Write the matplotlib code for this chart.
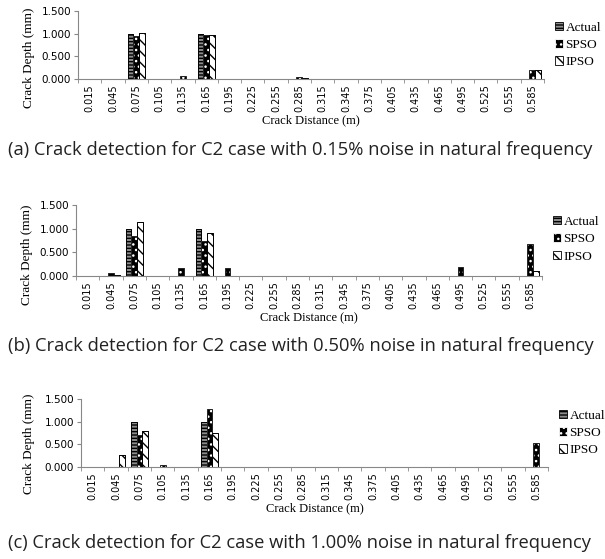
import matplotlib
matplotlib.use("Agg")
import matplotlib.pyplot as plt
import numpy as np
from matplotlib.patches import Patch

plt.rcParams['hatch.linewidth'] = 1.0

categories = ["0.015", "0.045", "0.075", "0.105", "0.135", "0.165", "0.195", "0.225",
              "0.255", "0.285", "0.315", "0.345", "0.375", "0.405", "0.435", "0.465",
              "0.495", "0.525", "0.555", "0.585"]

def series(d):
    return [d.get(c, 0.0) for c in categories]

# (a) 0.15% noise
actual_a = series({"0.075": 1.0, "0.165": 1.0})
spso_a = series({"0.075": 0.95, "0.135": 0.07, "0.165": 0.98, "0.285": 0.05, "0.585": 0.20})
ipso_a = series({"0.075": 1.02, "0.165": 0.98, "0.285": 0.03, "0.585": 0.20})
# (b) 0.50% noise
actual_b = series({"0.075": 1.0, "0.165": 1.0})
spso_b = series({"0.045": 0.06, "0.075": 0.85, "0.135": 0.17, "0.165": 0.73, "0.195": 0.17,
                 "0.495": 0.20, "0.585": 0.68})
ipso_b = series({"0.045": 0.02, "0.075": 1.15, "0.165": 0.90, "0.585": 0.10})
# (c) 1.00% noise
actual_c = series({"0.075": 1.0, "0.165": 1.0})
spso_c = series({"0.075": 0.70, "0.105": 0.04, "0.165": 1.27, "0.585": 0.52})
ipso_c = series({"0.045": 0.27, "0.075": 0.80, "0.165": 0.76})

captions = ["(a) Crack detection for C2 case with 0.15% noise in natural frequency",
            "(b) Crack detection for C2 case with 0.50% noise in natural frequency",
            "(c) Crack detection for C2 case with 1.00% noise in natural frequency"]
yticks = [0.0, 0.5, 1.0, 1.5]
series_names = ["Actual", "SPSO", "IPSO"]

W, H = 605, 559
fig = plt.figure(figsize=(W / 100, H / 100), dpi=100)

# axes boxes in pixels: left, right, top, bottom
boxes = [(78, 544, 11, 79), (76, 542, 205, 276), (81, 548, 399, 467)]
caption_y = [150, 346, 543]
ylabel_pos = [0.31, 0.30, 0.34]
ylabel_x = [-0.092, -0.092, -0.098]
data = [(actual_a, spso_a, ipso_a), (actual_b, spso_b, ipso_b), (actual_c, spso_c, ipso_c)]

styles = [dict(facecolor="#8c8c8c", edgecolor="black", hatch="-----"),
          dict(facecolor="black", edgecolor="white", hatch="..."),
          dict(facecolor="white", edgecolor="black", hatch="\\\\\\")]

serif = "Liberation Serif"
x = np.arange(len(categories))
bw = 0.245

for i, (l, r, t, b) in enumerate(boxes):
    ax = fig.add_axes([l / W, 1 - b / H, (r - l) / W, (b - t) / H])
    handles = []
    for j, (vals, st) in enumerate(zip(data[i], styles)):
        ax.bar(x + (j - 1) * bw, vals, width=bw, linewidth=0.6, **st)
        ax.bar(x + (j - 1) * bw, vals, width=bw, facecolor="none", edgecolor="black", linewidth=0.6)
        handles.append(Patch(label=series_names[j], linewidth=0.6, **st))
    ax.set_xlim(-0.5, len(categories) - 0.5)
    ax.set_ylim(0, 1.5)
    ax.set_yticks(yticks)
    ax.set_yticklabels([f"{v:.3f}" for v in yticks], fontsize=7.5, family="DejaVu Sans")
    ax.set_xticks(x)
    ax.set_xticklabels(categories, rotation=90, fontsize=7, family="DejaVu Sans")
    ax.set_xticks(np.arange(len(categories) + 1) - 0.5, minor=True)
    ax.tick_params(axis="x", which="major", length=0, pad=4)
    ax.tick_params(axis="x", which="minor", length=3, color="#888888")
    ax.tick_params(axis="y", length=3, color="#888888", pad=2)
    for s in ["top", "right"]:
        ax.spines[s].set_visible(False)
    for s in ["left", "bottom"]:
        ax.spines[s].set_color("#888888")
        ax.spines[s].set_linewidth(0.8)
    ax.set_ylabel("Crack Depth (mm)", family=serif, fontsize=9.5, labelpad=3)
    ax.yaxis.set_label_coords(ylabel_x[i], ylabel_pos[i])
    ax.set_xlabel("Crack Distance (m)", family=serif, fontsize=9, labelpad=1)
    ax.legend(handles=handles, loc="upper left", bbox_to_anchor=(1.012, 0.92), frameon=False,
              prop={"family": serif, "size": 9.5}, handlelength=0.6, handleheight=0.6,
              handletextpad=0.2, labelspacing=0.4, borderaxespad=0)
    fig.text(8 / W, 1 - caption_y[i] / H, captions[i], fontsize=13.2, family="Open Sans",
             va="center", ha="left", color="#222222")

fig.savefig("out.png", dpi=100)
